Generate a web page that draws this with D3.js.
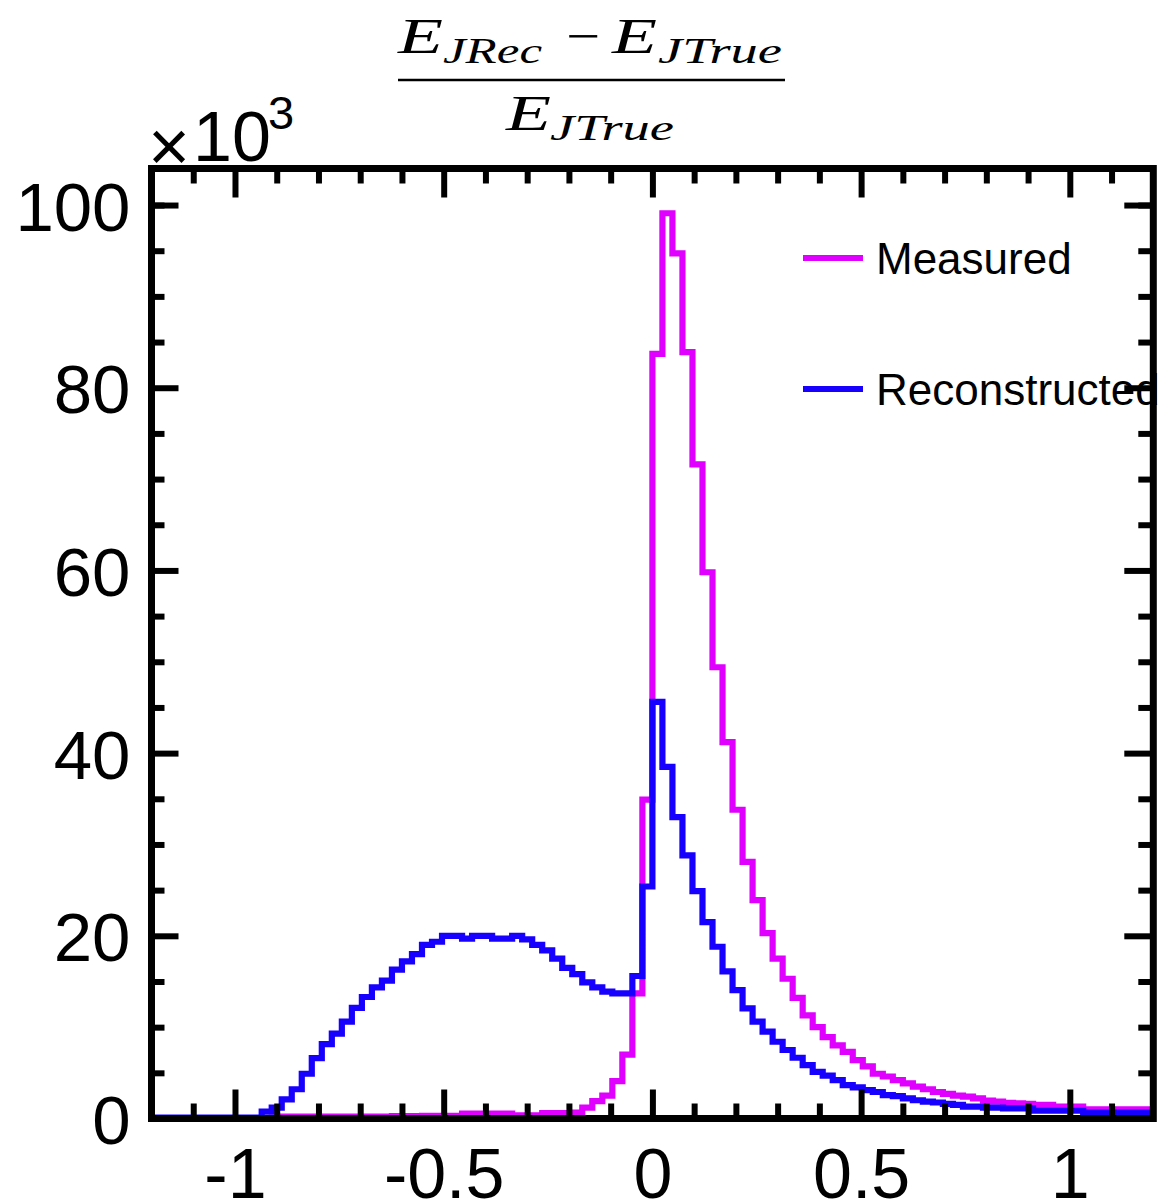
<!DOCTYPE html>
<html>
<head>
<meta charset="utf-8">
<script src="https://cdn.jsdelivr.net/npm/d3@7"></script>
<style>
  html, body { margin: 0; padding: 0; background: #ffffff; }
  svg { display: block; }
  .lbl { font-family: "Liberation Sans", Arial, sans-serif; fill: #000; }
  .math { font-family: "Liberation Serif", "Times New Roman", serif; font-style: italic; fill: #000; }
</style>
</head>
<body>
<svg id="chart" width="1162" height="1202"></svg>
<script>
// Histogram binning: 100 bins from -1.2 to 1.2
const binLow = -1.2;
const binHigh = 1.2;
const nBins = 100;

// Bin contents (in units of 10^3 entries)
const measured = [
  0.05, 0.05, 0.05, 0.05, 0.05, 0.05, 0.05, 0.05, 0.05, 0.05,
  0.05, 0.05, 0.1, 0.2, 0.2, 0.2, 0.2, 0.2, 0.2, 0.2,
  0.2, 0.2, 0.2, 0.2, 0.25, 0.25, 0.25, 0.3, 0.3, 0.3,
  0.3, 0.55, 0.55, 0.55, 0.55, 0.55, 0.35, 0.35, 0.35, 0.6,
  0.6, 0.6, 0.65, 1.2, 1.9, 2.5, 4.1, 7.0, 13.7, 34.9,
  83.7, 99.1, 94.7, 83.9, 71.6, 59.8, 49.4, 41.2, 33.8, 28.1,
  23.9, 20.3, 17.5, 15.3, 13.2, 11.3, 10.0, 8.9, 8.0, 7.3,
  6.4, 5.7, 4.9, 4.6, 4.2, 3.85, 3.5, 3.2, 2.9, 2.7,
  2.5, 2.4, 2.2, 1.95, 1.85, 1.7, 1.65, 1.6, 1.5, 1.5,
  1.3, 1.3, 1.3, 1.0, 1.0, 1.0, 1.0, 1.0, 1.0, 1.0
];

const reconstructed = [
  0.1, 0.1, 0.1, 0.1, 0.1, 0.1, 0.1, 0.1, 0.1, 0.1,
  0.1, 0.75, 1.2, 2.1, 3.2, 4.9, 6.6, 8.15, 9.3, 10.6,
  12.1, 13.3, 14.35, 15.1, 16.3, 17.2, 18.0, 19.0, 19.35, 20.0,
  20.0, 19.7, 20.0, 20.0, 19.7, 19.7, 20.0, 19.6, 19.0, 18.4,
  17.5, 16.5, 15.8, 14.9, 14.35, 13.9, 13.7, 13.7, 15.6, 25.4,
  45.6, 38.5, 33.0, 28.8, 24.9, 21.5, 18.8, 16.1, 14.05, 12.05,
  10.6, 9.5, 8.4, 7.5, 6.65, 5.85, 5.1, 4.7, 4.2, 3.65,
  3.4, 3.1, 2.9, 2.55, 2.45, 2.2, 2.0, 1.85, 1.75, 1.6,
  1.5, 1.3, 1.3, 1.2, 1.2, 1.1, 1.1, 1.1, 0.85, 0.85,
  0.85, 0.85, 0.85, 0.65, 0.65, 0.65, 0.65, 0.65, 0.65, 0.65
];

const seriesNames = ["Measured", "Reconstructed"];
const seriesColors = ["#e000ff", "#1800ff"];

const xMajorTicks = [-1, -0.5, 0, 0.5, 1];
const xMinorTicks = [-1.1, -0.9, -0.8, -0.7, -0.6, -0.4, -0.3, -0.2, -0.1,
                     0.1, 0.2, 0.3, 0.4, 0.6, 0.7, 0.8, 0.9, 1.1];
const yMajorTicks = [0, 20, 40, 60, 80, 100];
const yMinorTicks = [5, 10, 15, 25, 30, 35, 45, 50, 55, 65, 70, 75, 85, 90, 95, 100];

const yMax = 104;

// Frame geometry
const frame = { left: 151.5, right: 1153.3, top: 168.5, bottom: 1118.5 };

const svg = d3.select("#chart");
svg.append("rect").attr("width", 1162).attr("height", 1202).attr("fill", "#fff");

const x = d3.scaleLinear().domain([binLow, binHigh]).range([frame.left, frame.right]);
const y = d3.scaleLinear().domain([0, yMax]).range([frame.bottom, frame.top]);

const binWidth = (binHigh - binLow) / nBins;
const edges = d3.range(nBins + 1).map(i => binLow + i * binWidth);

function stepPoints(values) {
  const pts = values.map((v, i) => [edges[i], v]);
  pts.push([edges[nBins], values[nBins - 1]]);
  return pts;
}

const line = d3.line()
  .x(d => x(d[0]))
  .y(d => y(d[1]))
  .curve(d3.curveStepAfter);

const plot = svg.append("g");
[measured, reconstructed].forEach((vals, k) => {
  plot.append("path")
    .attr("d", line(stepPoints(vals)))
    .attr("fill", "none")
    .attr("stroke", seriesColors[k])
    .attr("stroke-width", 6.2)
    .attr("stroke-linejoin", "miter")
    .attr("stroke-linecap", "butt");
});

// Axes: ticks point inward on all four sides
const tickW = 6;
const fmtX = d => String(d);

function styleAxis(g) {
  g.select(".domain").remove();
  g.selectAll(".tick line").attr("stroke", "#000").attr("stroke-width", tickW);
}

// bottom
svg.append("g").attr("transform", `translate(0,${frame.bottom})`)
  .call(d3.axisBottom(x).tickValues(xMinorTicks).tickSizeInner(-15).tickSizeOuter(0).tickFormat(""))
  .call(styleAxis);
const xAx = svg.append("g").attr("transform", `translate(0,${frame.bottom})`)
  .call(d3.axisBottom(x).tickValues(xMajorTicks).tickSizeInner(-29).tickSizeOuter(0).tickPadding(30).tickFormat(fmtX))
  .call(styleAxis);
xAx.selectAll(".tick text")
  .attr("class", "lbl").attr("font-size", 70).attr("font-family", "Liberation Sans, Arial, sans-serif")
  .attr("dy", null).attr("y", 79);

// top
svg.append("g").attr("transform", `translate(0,${frame.top})`)
  .call(d3.axisTop(x).tickValues(xMinorTicks).tickSizeInner(-15).tickSizeOuter(0).tickFormat(""))
  .call(styleAxis);
svg.append("g").attr("transform", `translate(0,${frame.top})`)
  .call(d3.axisTop(x).tickValues(xMajorTicks).tickSizeInner(-29).tickSizeOuter(0).tickFormat(""))
  .call(styleAxis);

// left
svg.append("g").attr("transform", `translate(${frame.left},0)`)
  .call(d3.axisLeft(y).tickValues(yMinorTicks).tickSizeInner(-13).tickSizeOuter(0).tickFormat(""))
  .call(styleAxis);
const yAx = svg.append("g").attr("transform", `translate(${frame.left},0)`)
  .call(d3.axisLeft(y).tickValues(yMajorTicks).tickSizeInner(-27).tickSizeOuter(0).tickPadding(21).tickFormat(d3.format("d")))
  .call(styleAxis);
yAx.selectAll(".tick text")
  .attr("class", "lbl").attr("font-size", 69).attr("font-family", "Liberation Sans, Arial, sans-serif")
  .attr("dy", null).attr("y", 25);

// right
svg.append("g").attr("transform", `translate(${frame.right},0)`)
  .call(d3.axisRight(y).tickValues(yMinorTicks).tickSizeInner(-15).tickSizeOuter(0).tickFormat(""))
  .call(styleAxis);
svg.append("g").attr("transform", `translate(${frame.right},0)`)
  .call(d3.axisRight(y).tickValues(yMajorTicks).tickSizeInner(-29).tickSizeOuter(0).tickFormat(""))
  .call(styleAxis);

// Frame
svg.append("rect")
  .attr("x", frame.left).attr("y", frame.top)
  .attr("width", frame.right - frame.left).attr("height", frame.bottom - frame.top)
  .attr("fill", "none").attr("stroke", "#000").attr("stroke-width", 7);

// Exponent label
svg.append("text").attr("class", "lbl").attr("x", 148).attr("y", 171)
  .attr("font-size", 72).text("\u00d7");
svg.append("text").attr("class", "lbl").attr("x", 193).attr("y", 161)
  .attr("font-size", 70).text("10");
svg.append("text").attr("class", "lbl").attr("x", 268).attr("y", 129)
  .attr("font-size", 47).text("3");

// Title: fraction (E_JRec - E_JTrue) / E_JTrue
const title = svg.append("g");
function mathText(txt, xPos, yPos, size, len, italic = true) {
  const t = title.append("text").attr("class", "math")
    .attr("x", xPos).attr("y", yPos).attr("font-size", size)
    .attr("textLength", len).attr("lengthAdjust", "spacingAndGlyphs")
    .text(txt);
  if (!italic) t.style("font-style", "normal");
  return t;
}
mathText("E", 398, 53, 50, 45);
mathText("JRec", 443, 63, 35, 99);
mathText("\u2212", 566, 53, 50, 34, false);
mathText("E", 612, 53, 50, 45);
mathText("JTrue", 658, 63, 35, 124);
title.append("line").attr("x1", 398).attr("x2", 785).attr("y1", 80).attr("y2", 80)
  .attr("stroke", "#000").attr("stroke-width", 2.6);
mathText("E", 506, 130, 50, 45);
mathText("JTrue", 550, 140, 35, 124);

// Legend
const legend = svg.append("g");
seriesNames.forEach((name, k) => {
  const ly = [258, 389][k];
  legend.append("line").attr("x1", 803).attr("x2", 863).attr("y1", ly).attr("y2", ly)
    .attr("stroke", seriesColors[k]).attr("stroke-width", 6);
  legend.append("text").attr("class", "lbl").attr("x", 876).attr("y", ly + 16)
    .attr("font-size", 44).text(name);
});
</script>
</body>
</html>
